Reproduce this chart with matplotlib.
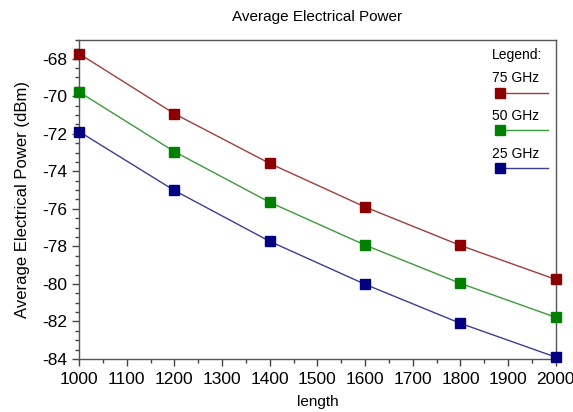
import matplotlib
matplotlib.use("Agg")
import matplotlib.pyplot as plt
from matplotlib.ticker import MultipleLocator
from matplotlib.lines import Line2D

plt.rcParams['font.family'] = ['Liberation Sans', 'DejaVu Sans']
plt.rcParams['axes.unicode_minus'] = False

lengths = [1000, 1200, 1400, 1600, 1800, 2000]
series_names = ["75 GHz", "50 GHz", "25 GHz"]
power_75 = [-67.73, -70.93, -73.58, -75.9, -77.95, -79.76]
power_50 = [-69.77, -72.95, -75.65, -77.93, -79.97, -81.78]
power_25 = [-71.88, -75.02, -77.73, -80.02, -82.1, -83.9]
colors = ["#8b0000", "#008000", "#000080"]
line_colors = ["#a03c3c", "#3c9a3c", "#3c3c96"]

fig = plt.figure(figsize=(5.73, 4.12), dpi=100)
ax = fig.add_axes([0.138, 0.1286, 0.832, 0.7744])

for vals, c, lc in zip([power_75, power_50, power_25], colors, line_colors):
    ax.plot(lengths, vals, color=lc, lw=1.0, zorder=2, clip_on=False)
    ax.plot(lengths, vals, ls='none', marker='s', ms=6.5, mfc=c, mec=c,
            zorder=3, clip_on=False)

ax.set_xlim(1000, 2000)
ax.set_ylim(-84, -67)
ax.xaxis.set_major_locator(MultipleLocator(100))
ax.xaxis.set_minor_locator(MultipleLocator(50))
ax.yaxis.set_major_locator(MultipleLocator(2))
ax.yaxis.set_minor_locator(MultipleLocator(0.5))
ax.tick_params(axis='both', which='major', direction='out', length=5,
               width=1, labelsize=12.5, color='#444444')
ax.tick_params(axis='both', which='minor', direction='out', length=3,
               width=1, color='#444444')
ax.tick_params(axis='x', pad=4)
for s in ax.spines.values():
    s.set_color('#555555')
    s.set_linewidth(1.0)

ax.set_title("Average Electrical Power", fontsize=11, pad=14)
ax.set_xlabel("length", fontsize=11, labelpad=6)
ax.set_ylabel("Average Electrical Power (dBm)", fontsize=12, labelpad=9)

# custom legend
ax.text(0.866, 0.953, "Legend:", transform=ax.transAxes, fontsize=10,
        va='center', ha='left')
text_ys = [0.881, 0.762, 0.643]
line_ys = [0.834, 0.718, 0.599]
for name, c, lc, ty, ly in zip(series_names, colors, line_colors, text_ys, line_ys):
    ax.text(0.866, ty, name, transform=ax.transAxes, fontsize=10,
            va='center', ha='left')
    ax.add_line(Line2D([0.883, 0.983], [ly, ly], transform=ax.transAxes,
                       color=lc, lw=1.0))
    ax.add_line(Line2D([0.883], [ly], transform=ax.transAxes, marker='s',
                       ms=6.5, mfc=c, mec=c, ls='none'))

fig.savefig("out.png", dpi=100)
